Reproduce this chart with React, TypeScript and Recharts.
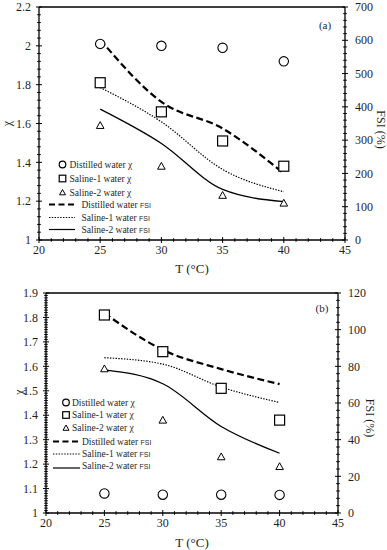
import React from 'react';
import {
  ComposedChart,
  Line,
  Scatter,
  XAxis,
  YAxis,
  ReferenceLine,
  Legend,
  Customized,
} from 'recharts';

const SERIF = '"Liberation Serif", "DejaVu Serif", serif';
const SANS = '"Liberation Sans", Arial, sans-serif';
const INK = '#1f1f1f';

const temps = [25, 30, 35, 40];

// panel (a)
const chiDistilledA = [2.01, 2.0, 1.99, 1.92];
const chiSaline1A = [1.81, 1.66, 1.51, 1.38];
const chiSaline2A = [1.59, 1.38, 1.23, 1.19];
const fsiDistilledA = [602, 415, 335, 200];
const fsiSaline1A = [458, 355, 212, 145];
const fsiSaline2A = [393, 290, 152, 115];

// panel (b)
const chiDistilledB = [1.08, 1.075, 1.075, 1.074];
const chiSaline1B = [1.81, 1.66, 1.51, 1.38];
const chiSaline2B = [1.59, 1.38, 1.23, 1.19];
const fsiDistilledB = [109, 89, 78.5, 70.3];
const fsiSaline1B = [84.7, 81.2, 68.7, 60.3];
const fsiSaline2B = [78.1, 70.5, 47.2, 32.6];

const xTicks = [20, 25, 30, 35, 40, 45];
const chiTicksA = [1, 1.2, 1.4, 1.6, 1.8, 2, 2.2];
const fsiTicksA = [0, 100, 200, 300, 400, 500, 600, 700];
const chiTicksB = [1, 1.1, 1.2, 1.3, 1.4, 1.5, 1.6, 1.7, 1.8, 1.9];
const fsiTicksB = [0, 20, 40, 60, 80, 100, 120];

const legendNames = ['Distilled water', 'Saline-1 water', 'Saline-2 water'];

// minor tick positions between the labelled ones
function withMinor(majors: number[], step: number): number[] {
  const lo = majors[0];
  const hi = majors[majors.length - 1];
  const n = Math.round((hi - lo) / step);
  const out: number[] = [];
  for (let i = 0; i <= n; i++) out.push(lo + i * step);
  return out;
}

function makeTick(side: 'left' | 'right' | 'bottom', majors: number[], margin: number) {
  return (props: any) => {
    const { x, y, payload } = props;
    const major = majors.find((m) => Math.abs(m - payload.value) < 1e-6);
    const half = major !== undefined ? 3 : 1.8;
    if (side === 'bottom') {
      const ay = y - margin;
      return (
        <g>
          <line x1={x} x2={x} y1={ay - half} y2={ay + half} stroke="#000" strokeWidth={1} />
          {major !== undefined && (
            <text x={x} y={y} dy="0.75em" textAnchor="middle" fontSize={12} fill={INK} fontFamily={SERIF}>
              {major}
            </text>
          )}
        </g>
      );
    }
    const ax = side === 'left' ? x + margin : x - margin;
    return (
      <g>
        <line x1={ax - half} x2={ax + half} y1={y} y2={y} stroke="#000" strokeWidth={1} />
        {major !== undefined && (
          <text
            x={x}
            y={y}
            dy="0.35em"
            textAnchor={side === 'left' ? 'end' : 'start'}
            fontSize={12}
            fill={INK}
            fontFamily={SERIF}
          >
            {major}
          </text>
        )}
      </g>
    );
  };
}

function axisTitle(text: string, cx: number, dy: number, rot: number, size: number) {
  return (props: any) => {
    const vb = props.viewBox || { x: 0, y: 0, width: 0, height: 0 };
    const x = vb.x + cx;
    const y = vb.y + vb.height / 2 + dy;
    return (
      <text
        x={x}
        y={y}
        transform={`rotate(${rot} ${x} ${y})`}
        textAnchor="middle"
        dominantBaseline="central"
        fontSize={size}
        fill={INK}
        fontFamily={SERIF}
      >
        {text}
      </text>
    );
  };
}

const OpenCircle = (p: any) => <circle cx={p.cx} cy={p.cy} r={4.7} fill="#fff" stroke="#000" strokeWidth={1.1} />;
const OpenSquare = (p: any) => (
  <rect x={p.cx - 5} y={p.cy - 5} width={10} height={10} fill="#fff" stroke="#000" strokeWidth={1.2} />
);
const OpenTriangle = (p: any) => (
  <path
    d={`M${p.cx},${p.cy - 3.8} L${p.cx + 3.8},${p.cy + 3} L${p.cx - 3.8},${p.cy + 3} Z`}
    fill="#fff"
    stroke="#000"
    strokeWidth={1}
  />
);

type LegendLayout = {
  markerX: number;
  markerText: number;
  markerRows: number[];
  lineX1: number;
  lineX2: number;
  lineText: number;
  lineRows: number[];
  underline: number;
};

function PanelLegend({ lay }: { lay: LegendLayout }) {
  const marks = ['circle', 'square', 'triangle'];
  const dashes = ['6 3.5', '1.4 1.4', undefined];
  const widths = [2.2, 1.2, 1.2];
  return (
    <svg width={387} height={275} style={{ position: 'absolute', left: 0, top: 0 }}>
      {legendNames.map((name, i) => {
        const y = lay.markerRows[i];
        const mx = lay.markerX;
        return (
          <g key={'m' + i}>
            {marks[i] === 'circle' && <circle cx={mx} cy={y} r={3.3} fill="#fff" stroke="#000" strokeWidth={1.2} />}
            {marks[i] === 'square' && (
              <rect x={mx - 3.3} y={y - 3.3} width={6.6} height={6.6} fill="#fff" stroke="#000" strokeWidth={1.2} />
            )}
            {marks[i] === 'triangle' && (
              <path d={`M${mx},${y - 3} L${mx + 3},${y + 2.3} L${mx - 3},${y + 2.3} Z`} fill="#fff" stroke="#000" strokeWidth={1} />
            )}
            <text x={lay.markerText} y={y} dy="0.35em" fontSize={9.5} fill={INK} fontFamily={SERIF}>
              {name} χ
            </text>
          </g>
        );
      })}
      {legendNames.map((name, i) => {
        const y = lay.lineRows[i];
        const ly = i === 2 ? y + lay.underline : y;
        return (
          <g key={'l' + i}>
            <line
              x1={lay.lineX1}
              x2={lay.lineX2}
              y1={ly}
              y2={ly}
              stroke="#000"
              strokeWidth={widths[i]}
              strokeDasharray={dashes[i]}
            />
            <text x={lay.lineText} y={y} dy="0.35em" fontSize={9.5} fill={INK} fontFamily={SERIF}>
              {name} <tspan fontFamily={SANS} fontSize={7}>FSI</tspan>
            </text>
          </g>
        );
      })}
    </svg>
  );
}

type PanelProps = {
  tag: string;
  tagPos: [number, number];
  rows: any[];
  top: number;
  leftW: number;
  rightW: number;
  xH: number;
  chiTicks: number[];
  chiMinor: number;
  fsiTicks: number[];
  fsiMinor: number;
  leftTitle: { cx: number; dy: number };
  rightTitle: { cx: number; dy: number };
  xTitleOffset: number;
  legend: LegendLayout;
};

function Panel(p: PanelProps) {
  const chiDomain = [p.chiTicks[0], p.chiTicks[p.chiTicks.length - 1]];
  const fsiDomain = [p.fsiTicks[0], p.fsiTicks[p.fsiTicks.length - 1]];
  return (
    <ComposedChart width={387} height={275} data={p.rows} margin={{ top: p.top, right: 0, bottom: 0, left: 0 }}>
      <XAxis
        dataKey="T"
        type="number"
        domain={[20, 45]}
        ticks={withMinor(xTicks, 1)}
        interval={0}
        height={p.xH}
        tickSize={0}
        tickMargin={5}
        tickLine={false}
        tick={makeTick('bottom', xTicks, 5)}
        axisLine={{ stroke: '#000', strokeWidth: 1.3 }}
        label={{ value: 'T (°C)', position: 'insideBottom', offset: p.xTitleOffset, fontSize: 13, fill: INK, fontFamily: SERIF }}
      />
      <YAxis
        yAxisId="left"
        orientation="left"
        width={p.leftW}
        domain={chiDomain}
        ticks={withMinor(p.chiTicks, p.chiMinor)}
        interval={0}
        tickSize={0}
        tickMargin={8}
        tickLine={false}
        tick={makeTick('left', p.chiTicks, 8)}
        axisLine={{ stroke: '#000', strokeWidth: 1.3 }}
        label={{ content: axisTitle('χ', p.leftTitle.cx, p.leftTitle.dy, -90, 12) }}
      />
      <YAxis
        yAxisId="right"
        orientation="right"
        width={p.rightW}
        domain={fsiDomain}
        ticks={withMinor(p.fsiTicks, p.fsiMinor)}
        interval={0}
        tickSize={0}
        tickMargin={10}
        tickLine={false}
        tick={makeTick('right', p.fsiTicks, 10)}
        axisLine={{ stroke: '#000', strokeWidth: 1.3 }}
        label={{ content: axisTitle('FSI (%)', p.rightTitle.cx, p.rightTitle.dy, 90, 12) }}
      />
      <ReferenceLine yAxisId="left" y={chiDomain[1]} stroke="#000" strokeWidth={1.3} />
      <Line yAxisId="right" type="monotone" dataKey="fsiD" stroke="#000" strokeWidth={2.2} strokeDasharray="7 3.5" dot={false} isAnimationActive={false} />
      <Line yAxisId="right" type="monotone" dataKey="fsi1" stroke="#000" strokeWidth={1.2} strokeDasharray="1.4 1.4" dot={false} isAnimationActive={false} />
      <Line yAxisId="right" type="monotone" dataKey="fsi2" stroke="#000" strokeWidth={1.3} dot={false} isAnimationActive={false} />
      <Scatter yAxisId="left" dataKey="chiD" shape={OpenCircle} isAnimationActive={false} />
      <Scatter yAxisId="left" dataKey="chi1" shape={OpenSquare} isAnimationActive={false} />
      <Scatter yAxisId="left" dataKey="chi2" shape={OpenTriangle} isAnimationActive={false} />
      <Legend
        layout="horizontal"
        verticalAlign="middle"
        align="center"
        wrapperStyle={{ left: 0, top: 0, width: 387, height: 275, pointerEvents: 'none' }}
        content={() => <PanelLegend lay={p.legend} />}
      />
      <Customized
        component={() => (
          <text x={p.tagPos[0]} y={p.tagPos[1]} dy="0.35em" textAnchor="middle" fontSize={11} fill={INK} fontFamily={SERIF}>
            {p.tag}
          </text>
        )}
      />
    </ComposedChart>
  );
}

const rowsA = temps.map((T, i) => ({
  T,
  chiD: chiDistilledA[i],
  chi1: chiSaline1A[i],
  chi2: chiSaline2A[i],
  fsiD: fsiDistilledA[i],
  fsi1: fsiSaline1A[i],
  fsi2: fsiSaline2A[i],
}));

const rowsB = temps.map((T, i) => ({
  T,
  chiD: chiDistilledB[i],
  chi1: chiSaline1B[i],
  chi2: chiSaline2B[i],
  fsiD: fsiDistilledB[i],
  fsi1: fsiSaline1B[i],
  fsi2: fsiSaline2B[i],
}));

export default function App() {
  return (
    <div style={{ position: 'absolute', left: 0, top: 0, width: 387, height: 550, background: '#fff', fontFamily: SERIF }}>
      <div style={{ position: 'relative', width: 387, height: 275 }}>
        <Panel
          tag="(a)"
          tagPos={[325, 25]}
          rows={rowsA}
          top={7}
          leftW={39}
          rightW={42}
          xH={35}
          chiTicks={chiTicksA}
          chiMinor={0.04}
          fsiTicks={fsiTicksA}
          fsiMinor={20}
          leftTitle={{ cx: 7, dy: 0 }}
          rightTitle={{ cx: 35.5, dy: 6 }}
          xTitleOffset={2}
          legend={{
            markerX: 62.5,
            markerText: 69.5,
            markerRows: [164.5, 178.5, 192.5],
            lineX1: 49,
            lineX2: 75,
            lineText: 81.5,
            lineRows: [204.5, 217.5, 229.5],
            underline: 0,
          }}
        />
      </div>
      <div style={{ position: 'relative', width: 387, height: 275 }}>
        <Panel
          tag="(b)"
          tagPos={[322, 33]}
          rows={rowsB}
          top={18}
          leftW={46}
          rightW={49}
          xH={37}
          chiTicks={chiTicksB}
          chiMinor={0.01}
          fsiTicks={fsiTicksB}
          fsiMinor={4}
          leftTitle={{ cx: 19, dy: -11 }}
          rightTitle={{ cx: 32, dy: 15 }}
          xTitleOffset={3}
          legend={{
            markerX: 66,
            markerText: 72,
            markerRows: [127.5, 140, 153],
            lineX1: 53,
            lineX2: 80,
            lineText: 82,
            lineRows: [166.5, 179, 191],
            underline: 2,
          }}
        />
      </div>
    </div>
  );
}
